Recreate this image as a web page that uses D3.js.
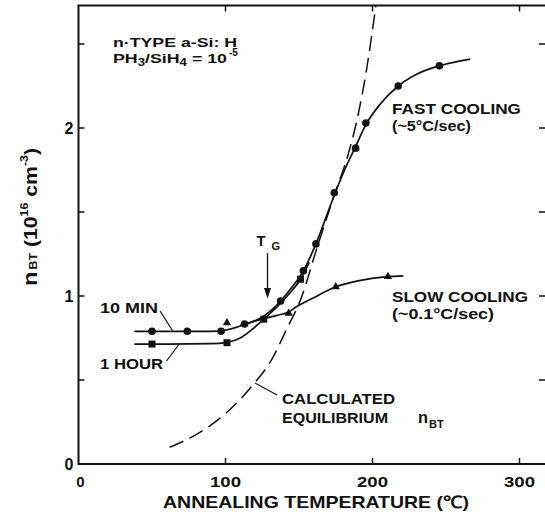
<!DOCTYPE html>
<html>
<head>
<meta charset="utf-8">
<script src="https://cdn.jsdelivr.net/npm/d3@7"></script>
<style>
  body { margin: 0; background: #fff; }
  svg text { font-family: "Liberation Sans", Arial, Helvetica, sans-serif; font-weight: bold; fill: #111; }
</style>
</head>
<body>
<svg id="chart"></svg>
<script>
const width = 545, height = 516;

// values: [annealing temperature (C), n_BT (1e16 cm^-3)]
const fastCircles = [[50, 0.79], [74, 0.79], [97, 0.79], [113, 0.833], [137.5, 0.97], [153, 1.15],
  [161.5, 1.31], [174, 1.615], [188.5, 1.88], [195.5, 2.03], [217.5, 2.25], [245.5, 2.37]];
const hourSquares = [[50, 0.714], [101, 0.722], [126, 0.862], [151, 1.10]];
const slowTriangles = [[101, 0.84], [143, 0.897], [175, 1.055], [210.5, 1.115]];

// hand-traced fitted curves
const fastCurve = [[38, 0.79], [60, 0.79], [90, 0.79], [100, 0.797], [113, 0.83], [126, 0.88],
  [137.5, 0.97], [145, 1.05], [153, 1.15], [161.5, 1.31], [174, 1.6], [181, 1.75], [188.5, 1.89],
  [195.5, 2.02], [205, 2.14], [217.5, 2.25], [230, 2.32], [245.5, 2.37], [266.5, 2.41]];
const hourCurve = [[38, 0.714], [60, 0.714], [90, 0.716], [101, 0.724], [110, 0.75], [118, 0.8],
  [126, 0.862], [135, 0.935], [143, 1.01], [151, 1.10], [157, 1.2]];
const slowCurve = [[110, 0.825], [126, 0.865], [135, 0.885], [143, 0.905], [148, 0.935],
  [160, 0.99], [175, 1.055], [190, 1.09], [210, 1.115], [221, 1.12]];
const equilibrium = [[62, 0.1], [80, 0.175], [100, 0.3], [120, 0.485], [130, 0.6], [142, 0.81],
  [151, 0.976], [162, 1.28], [174, 1.6], [184, 1.86], [190, 2.07], [196, 2.35], [202.3, 2.73]];

const xTicks = [0, 100, 200, 300];
const yTicks = [0, 1, 2];
const yMinor = [0.5, 1.5, 2.5];

const svg = d3.select("#chart")
    .attr("width", width)
    .attr("height", height);

const x = d3.scaleLinear().domain([0, 300]).range([78.5, 519.5]);
const y = d3.scaleLinear().domain([0, 2]).range([464, 128]);

const pl = x(0), pr = 547, pt = 5.5, pb = y(0);

// frame
svg.append("path")
    .attr("d", `M${pr},${pt}H${pl}V${pb}H${pr}`)
    .attr("fill", "none")
    .attr("stroke", "#111")
    .attr("stroke-width", 2);

// ticks (inward on all sides)
const tl = 6;
const allY = yTicks.concat(yMinor).filter(d => d > 0);
svg.selectAll(".ytl").data(allY).join("line")
    .attr("x1", pl).attr("x2", pl + tl)
    .attr("y1", d => y(d)).attr("y2", d => y(d))
    .attr("stroke", "#111").attr("stroke-width", 1.5);
svg.selectAll(".ytr").data(allY).join("line")
    .attr("x1", pr - 8).attr("x2", pr)
    .attr("y1", d => y(d)).attr("y2", d => y(d))
    .attr("stroke", "#111").attr("stroke-width", 1.5);
svg.selectAll(".xtb").data(xTicks.filter(d => d > 0)).join("line")
    .attr("x1", d => x(d)).attr("x2", d => x(d))
    .attr("y1", pb).attr("y2", pb - tl)
    .attr("stroke", "#111").attr("stroke-width", 1.5);
svg.selectAll(".xtt").data(xTicks.filter(d => d > 0)).join("line")
    .attr("x1", d => x(d)).attr("x2", d => x(d))
    .attr("y1", pt).attr("y2", pt + tl)
    .attr("stroke", "#111").attr("stroke-width", 1.5);

// tick labels
svg.selectAll(".xl").data(xTicks).join("text")
    .attr("x", d => x(d) + (d === 0 ? 2 : 0))
    .attr("y", 487)
    .attr("text-anchor", "middle")
    .attr("font-size", 15)
    .attr("textLength", d => d === 0 ? null : 31)
    .attr("lengthAdjust", "spacingAndGlyphs")
    .text(d => d);
svg.selectAll(".yl").data(yTicks).join("text")
    .attr("x", pl - 5)
    .attr("y", d => y(d) + 6)
    .attr("text-anchor", "end")
    .attr("font-size", 16)
    .text(d => d);

// axis titles
svg.append("text")
    .attr("x", 316).attr("y", 508)
    .attr("text-anchor", "middle")
    .attr("font-size", 17)
    .attr("textLength", 306)
    .attr("lengthAdjust", "spacingAndGlyphs")
    .text("ANNEALING TEMPERATURE (\u2103)");

const yt = svg.append("text")
    .attr("transform", "translate(37,217) rotate(-90)")
    .attr("text-anchor", "middle")
    .attr("font-size", 19)
    .attr("textLength", 138)
    .attr("lengthAdjust", "spacingAndGlyphs");
yt.append("tspan").attr("font-size", 21).text("n");
yt.append("tspan").attr("font-size", 11).attr("dx", 2).text("BT");
yt.append("tspan").text("  (10");
yt.append("tspan").attr("font-size", 11).attr("dy", -9).text("16");
yt.append("tspan").attr("dy", 9).text(" cm");
yt.append("tspan").attr("font-size", 11).attr("dy", -9).text("-3");
yt.append("tspan").attr("dy", 9).text(")");

// curves
const line = d3.line().x(d => x(d[0])).y(d => y(d[1])).curve(d3.curveMonotoneX);

svg.append("defs").append("clipPath").attr("id", "plot")
    .append("rect").attr("x", pl).attr("y", pt).attr("width", pr - pl).attr("height", pb - pt);

const g = svg.append("g").attr("clip-path", "url(#plot)");

g.append("path").datum(equilibrium)
    .attr("d", line).attr("fill", "none")
    .attr("stroke", "#111").attr("stroke-width", 1.5)
    .attr("stroke-dasharray", "15,7");

[fastCurve, hourCurve, slowCurve].forEach(c => {
    g.append("path").datum(c)
        .attr("d", line).attr("fill", "none")
        .attr("stroke", "#111").attr("stroke-width", 1.7);
});

// markers
g.selectAll(".circ").data(fastCircles).join("circle")
    .attr("cx", d => x(d[0])).attr("cy", d => y(d[1]))
    .attr("r", 3.8).attr("fill", "#111");
g.selectAll(".sq").data(hourSquares).join("rect")
    .attr("x", d => x(d[0]) - 3.5).attr("y", d => y(d[1]) - 3.5)
    .attr("width", 7).attr("height", 7).attr("fill", "#111");
g.selectAll(".tri").data(slowTriangles).join("path")
    .attr("transform", d => `translate(${x(d[0])},${y(d[1])})`)
    .attr("d", d3.symbol(d3.symbolTriangle, 30))
    .attr("fill", "#111");

// annotations
function txt(px, py, s, len, size) {
    return svg.append("text").attr("x", px).attr("y", py)
        .attr("font-size", size || 15)
        .attr("textLength", len)
        .attr("lengthAdjust", "spacingAndGlyphs")
        .text(s);
}

txt(113, 47, "n\u00b7TYPE  a-Si: H", 124, 13.5);
const l2 = svg.append("text").attr("x", 113).attr("y", 63).attr("font-size", 13.5)
    .attr("textLength", 114).attr("lengthAdjust", "spacingAndGlyphs");
l2.append("tspan").text("PH");
l2.append("tspan").attr("font-size", 10).attr("dy", 3).text("3");
l2.append("tspan").attr("dy", -3).text("/SiH");
l2.append("tspan").attr("font-size", 10).attr("dy", 3).text("4");
l2.append("tspan").attr("dy", -3).text("  =  10");
svg.append("text").attr("x", 229).attr("y", 56).attr("font-size", 10).text("-5");

txt(392, 114, "FAST COOLING", 129);
txt(392, 131, "(~5\u00b0C/sec)", 79);
txt(392, 302, "SLOW COOLING", 136);
txt(392, 319, "(~0.1\u00b0C/sec)", 102);

txt(100, 313, "10 MIN", 58);
txt(100, 369, "1 HOUR", 63);
svg.append("line").attr("x1", 160).attr("y1", 311).attr("x2", 172.5).attr("y2", 330.5)
    .attr("stroke", "#111").attr("stroke-width", 1.2);
svg.append("line").attr("x1", 166.5).attr("y1", 361).attr("x2", 178.5).attr("y2", 345)
    .attr("stroke", "#111").attr("stroke-width", 1.2);

txt(282, 404, "CALCULATED", 113);
txt(282, 422.5, "EQUILIBRIUM", 106);
txt(418, 422.5, "n", 10, 17);
svg.append("text").attr("x", 429).attr("y", 427.5).attr("font-size", 11).text("BT");
svg.append("line").attr("x1", 255).attr("y1", 383).attr("x2", 277).attr("y2", 395)
    .attr("stroke", "#111").attr("stroke-width", 1.2);

// T_G arrow
txt(256.5, 246, "T", 9, 15);
svg.append("text").attr("x", 271.5).attr("y", 250).attr("font-size", 11).text("G");
svg.append("line").attr("x1", 267.5).attr("y1", 253).attr("x2", 267.5).attr("y2", 292)
    .attr("stroke", "#111").attr("stroke-width", 1.3);
svg.append("path").attr("d", "M264,288L267.5,298.5L271,288Z").attr("fill", "#111");
</script>
</body>
</html>
